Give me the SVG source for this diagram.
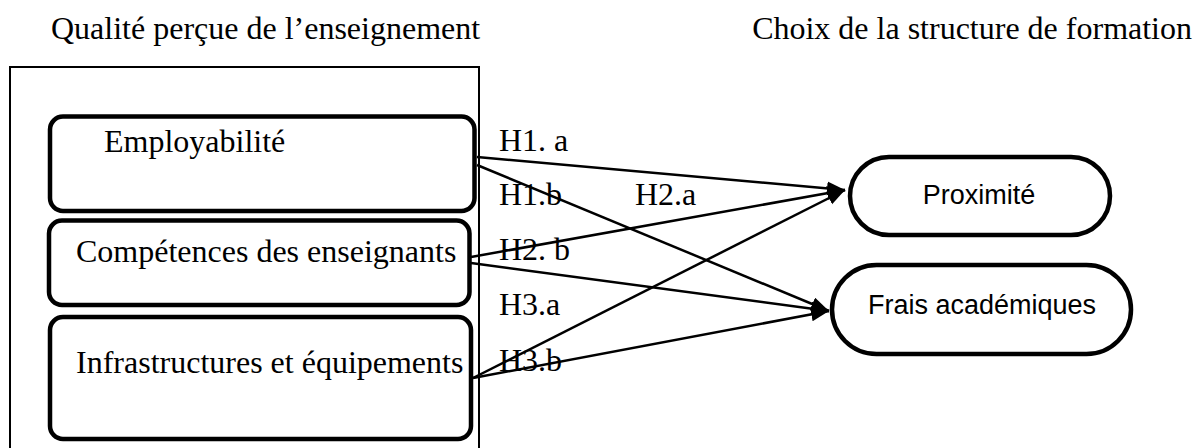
<svg xmlns="http://www.w3.org/2000/svg" width="1200" height="448" viewBox="0 0 1200 448">
<style>
.serif{font-family:"Liberation Serif","Times New Roman",serif;font-size:32px;fill:#000}
.sans{font-family:"Liberation Sans",Arial,sans-serif;font-size:27px;fill:#000}
.box{fill:#fff;stroke:#000;stroke-width:4.5}
.outer{fill:none;stroke:#000;stroke-width:2}
.conn{stroke:#000;stroke-width:2.5;fill:none;marker-end:url(#arr)}
</style>
<defs>
<marker id="arr" markerUnits="userSpaceOnUse" markerWidth="20" markerHeight="16" refX="18" refY="7" orient="auto">
<path d="M0,0 L18,7 L0,14 z" fill="#000"/>
</marker>
</defs>
<rect width="1200" height="448" fill="#fff"/>
<g id="titles">
<text class="serif" x="51" y="39">Qualité perçue de l’enseignement</text>
<text class="serif" x="1192" y="39" text-anchor="end">Choix de la structure de formation</text>
</g>
<g id="group-qualite">
<rect class="outer" x="10" y="67" width="469" height="390"/>
</g>
<g id="node-employabilite">
<rect class="box" x="50" y="116.5" width="424.5" height="94.5" rx="13"/>
<text class="serif" x="104" y="152">Employabilité</text>
</g>
<g id="node-competences">
<rect class="box" x="49" y="220.5" width="420.5" height="84.5" rx="13"/>
<text class="serif" x="76" y="262">Compétences des enseignants</text>
</g>
<g id="node-infrastructures">
<rect class="box" x="50" y="317" width="421" height="122" rx="13"/>
<text class="serif" x="76" y="373">Infrastructures et équipements</text>
</g>
<g id="node-proximite">
<rect class="box" x="850" y="157" width="260" height="78" rx="39"/>
<text class="sans" x="979" y="204" text-anchor="middle">Proximité</text>
</g>
<g id="node-frais">
<rect class="box" x="832" y="265" width="299" height="89" rx="44.5"/>
<text class="sans" x="982" y="314" text-anchor="middle">Frais académiques</text>
</g>
<g id="connectors">
<line class="conn" x1="477" y1="157" x2="845" y2="190"/>
<line class="conn" x1="477" y1="165" x2="829" y2="311"/>
<line class="conn" x1="471" y1="257" x2="845" y2="190"/>
<line class="conn" x1="471" y1="263" x2="829" y2="311"/>
<line class="conn" x1="473" y1="378" x2="845" y2="190"/>
<line class="conn" x1="473" y1="378" x2="829" y2="311"/>
</g>
<g id="labels">
<text class="serif" x="499" y="151">H1. a</text>
<text class="serif" x="499" y="205">H1.b</text>
<text class="serif" x="635" y="205">H2.a</text>
<text class="serif" x="499" y="260">H2. b</text>
<text class="serif" x="499" y="315">H3.a</text>
<text class="serif" x="499" y="371">H3.b</text>
</g>
</svg>
